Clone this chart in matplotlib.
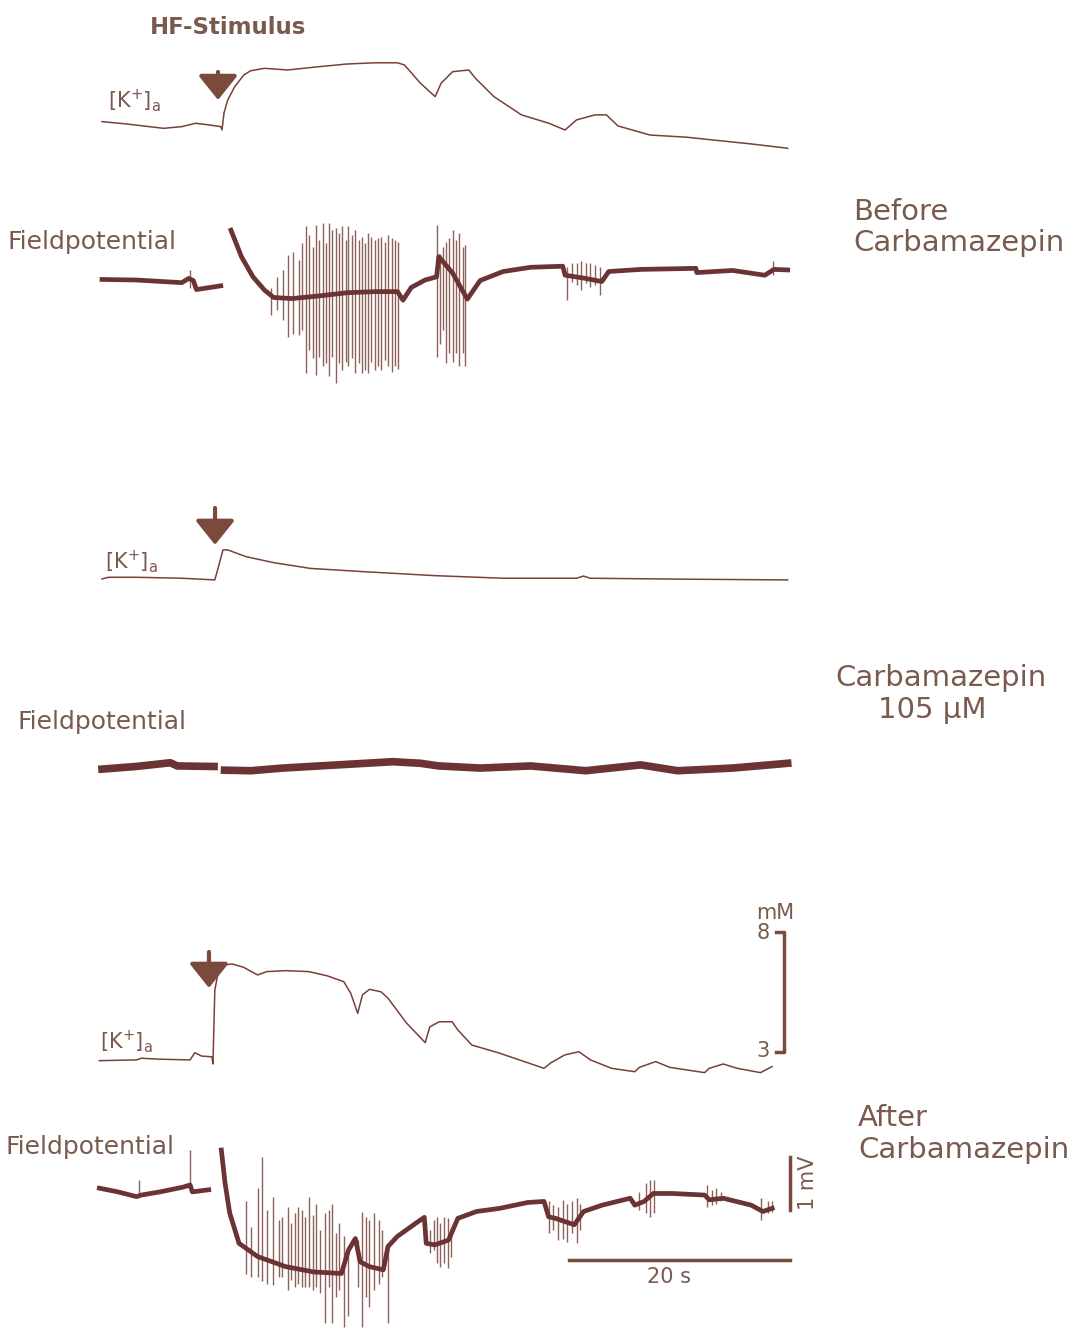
import matplotlib.pyplot as plt

# ---- data (time in s, [K+] in mM, field potential in mV) ----
k1_t = [0.0, 2.24, 5.56, 7.22, 8.47, 9.71, 10.75, 10.86, 11.04, 11.38, 12.00, 12.83, 13.46, 14.70,
        16.78, 19.68, 22.17, 24.67, 26.74, 27.37, 28.82, 30.15, 30.69, 31.73, 33.19, 33.81, 35.47,
        37.96, 40.45, 41.90, 42.94, 44.62, 45.65, 46.69, 49.59, 52.91, 55.38, 58.73, 62.05]
k1_mm = [3.10, 3.00, 2.82, 2.89, 3.03, 2.96, 2.89, 2.75, 3.46, 4.00, 4.55, 5.04, 5.22, 5.32,
         5.25, 5.39, 5.50, 5.55, 5.55, 5.46, 4.70, 4.14, 4.70, 5.18, 5.25, 4.90, 4.14,
         3.38, 3.03, 2.75, 3.17, 3.38, 3.38, 2.92, 2.54, 2.45, 2.33, 2.17, 1.99]

k2_t = [0.0, 0.58, 3.08, 7.22, 10.21, 10.54, 10.95, 11.38, 13.03, 15.54, 18.85, 23.82, 30.06,
        36.29, 42.94, 43.57, 44.19, 52.91, 62.05]
k2_mm = [2.96, 3.03, 3.03, 2.99, 2.92, 3.47, 4.17, 4.17, 3.89, 3.64, 3.40, 3.26, 3.10,
         2.99, 2.99, 3.08, 2.99, 2.95, 2.92]

k3_t = [-0.24, 3.13, 3.55, 5.23, 7.97, 8.40, 9.02, 9.95, 10.04, 10.21, 10.50, 11.13, 11.76, 12.81,
        14.08, 14.92, 16.62, 18.71, 20.41, 21.88, 22.51, 23.14, 23.57, 24.20, 25.25, 25.88, 27.57,
        29.25, 29.67, 30.52, 31.69, 32.20, 33.47, 35.99, 40.00, 40.62, 41.89, 43.16, 44.21, 46.11,
        48.22, 48.63, 50.11, 51.38, 54.53, 54.95, 56.22, 57.48, 59.59, 60.64]
k3_mm = [2.64, 2.67, 2.74, 2.70, 2.67, 2.97, 2.83, 2.80, 2.50, 5.58, 6.28, 6.63, 6.67, 6.53,
         6.21, 6.35, 6.39, 6.35, 6.17, 5.93, 5.45, 4.61, 5.38, 5.61, 5.51, 5.24, 4.20,
         3.39, 4.05, 4.26, 4.26, 3.92, 3.29, 2.95, 2.32, 2.55, 2.88, 3.01, 2.67, 2.32,
         2.18, 2.36, 2.60, 2.36, 2.14, 2.32, 2.50, 2.32, 2.14, 2.39]

# field potential before carbamazepin: pre-stimulus part and post-stimulus part
fp1a_t = [0.0, 3.07, 7.22, 7.85, 8.26, 8.55, 10.75]
fp1a_mv = [0.01, 0.00, -0.05, 0.03, -0.01, -0.18, -0.11]
fp1b_t = [11.67, 12.62, 13.66, 14.70, 15.53, 17.19, 19.68, 22.18, 24.67, 26.75, 27.24, 27.99,
          29.24, 30.28, 30.48, 31.73, 33.06, 34.22, 36.30, 38.79, 41.70, 41.91, 43.78, 45.23,
          45.86, 48.76, 53.75, 53.83, 57.07, 59.98, 60.81, 62.06]
fp1b_mv = [0.94, 0.44, 0.06, -0.19, -0.33, -0.35, -0.30, -0.24, -0.22, -0.22, -0.38, -0.14,
           0.00, 0.06, 0.44, 0.13, -0.36, -0.01, 0.16, 0.24, 0.26, 0.09, 0.03, -0.03,
           0.16, 0.20, 0.22, 0.14, 0.18, 0.09, 0.20, 0.19]
sp1_t = [7.97, 15.32, 15.86, 16.36, 16.86, 17.27, 17.81, 18.10, 18.44, 18.77, 19.10, 19.39, 19.68,
         19.97, 20.26, 20.56, 20.85, 21.18, 21.47, 21.76, 22.05, 22.30, 22.59, 22.88, 23.22,
         23.51, 23.80, 24.09, 24.38, 24.67, 24.96, 25.29, 25.58, 25.92, 26.21, 26.54, 26.83,
         30.28, 30.57, 30.82, 31.11, 31.40, 31.73, 32.02, 32.35, 32.64, 32.89,
         42.12, 42.53, 42.95, 43.36, 43.78, 44.19, 44.61, 45.11, 60.72]
sp1_top = [0.19, -0.16, 0.06, 0.19, 0.47, 0.53, 0.38, 0.69, 1.01, 0.85, 0.63, 1.04, 0.75,
           1.07, 0.69, 1.07, 0.94, 0.98, 0.88, 1.01, 0.75, 1.01, 0.85, 0.94, 0.75,
           0.82, 0.69, 0.88, 0.82, 0.75, 0.79, 0.82, 0.72, 0.85, 0.79, 0.75, 0.72,
           1.04, 0.50, 0.63, 0.72, 0.79, 0.94, 0.75, 0.88, 0.63, 0.66,
           0.25, 0.32, 0.32, 0.35, 0.32, 0.32, 0.28, 0.25, 0.35]
sp1_bot = [-0.16, -0.66, -0.57, -0.75, -1.07, -1.01, -1.04, -0.94, -1.76, -1.32, -1.48, -1.79, -1.45,
           -1.63, -1.57, -1.82, -1.45, -1.95, -1.57, -1.70, -1.54, -1.63, -1.48, -1.76, -1.57,
           -1.76, -1.70, -1.76, -1.54, -1.70, -1.63, -1.70, -1.51, -1.63, -1.73, -1.63, -1.67,
           -1.45, -1.20, -0.94, -1.57, -1.38, -1.54, -1.38, -1.63, -1.38, -1.63,
           -0.38, -0.03, -0.09, -0.19, -0.06, -0.13, -0.09, -0.28, 0.10]

# field potential with carbamazepin 105 uM
fp2a_t = [0.0, 3.08, 6.18, 6.81, 10.14]
fp2a_mv = [-0.04, 0.01, 0.08, 0.02, 0.01]
fp2b_t = [11.09, 13.46, 16.36, 19.68, 23.84, 26.33, 28.82, 30.48, 34.23, 38.79, 43.77, 48.76,
          52.08, 57.07, 62.05]
fp2b_mv = [-0.06, -0.07, -0.02, 0.02, 0.07, 0.10, 0.07, 0.02, -0.02, 0.02, -0.07, 0.04,
           -0.07, -0.02, 0.07]

# field potential after carbamazepin
fp3a_t = [-0.24, 1.44, 3.13, 3.55, 5.24, 7.34, 7.97, 8.18, 9.66]
fp3a_mv = [-0.06, -0.13, -0.22, -0.19, -0.13, -0.04, 0.00, -0.13, -0.09]
fp3b_t = [10.80, 11.14, 11.56, 12.40, 14.08, 16.61, 19.14, 21.67, 22.30, 22.93, 23.36, 24.20,
          25.46, 25.88, 26.73, 28.41, 29.17, 29.34, 30.10, 31.36, 32.20, 33.89, 36.00, 38.53,
          40.00, 40.42, 41.05, 42.74, 43.58, 45.27, 47.80, 48.22, 49.06, 49.90, 51.59, 54.54,
          54.96, 56.22, 58.75, 59.81, 60.65]
fp3b_mv = [0.66, 0.03, -0.53, -1.10, -1.35, -1.54, -1.64, -1.67, -1.23, -1.01, -1.45, -1.54,
           -1.60, -1.16, -0.97, -0.72, -0.61, -1.10, -1.13, -1.04, -0.63, -0.50, -0.44, -0.33,
           -0.31, -0.60, -0.63, -0.75, -0.50, -0.38, -0.25, -0.38, -0.31, -0.16, -0.16, -0.19,
           -0.28, -0.25, -0.38, -0.50, -0.44]
sp3_t = [3.34, 7.97,
         13.03, 13.45, 14.08, 14.51, 14.93, 15.48, 15.98, 16.32, 16.82, 17.12, 17.46, 17.75,
         18.09, 18.38, 18.72, 19.06, 19.39, 19.77, 20.19, 20.53, 20.83, 21.16, 21.46, 21.88,
         22.22, 23.14, 23.57, 23.90, 24.20, 24.62, 25.04, 25.38, 25.88,
         29.68, 30.01, 30.31, 30.60, 30.94, 31.28, 31.61,
         40.42, 40.84, 41.26, 41.69, 42.11, 42.53, 42.95, 43.24,
         48.64, 49.27, 49.61, 49.99, 54.75, 55.17, 55.59, 56.01, 59.60, 60.23, 60.65]
sp3_top = [0.09, 0.66,
           -0.31, -0.79, -0.06, 0.53, -0.47, -0.22, -0.66, -0.60, -0.41, -0.72, -0.53, -0.41,
           -0.47, -0.60, -0.22, -0.57, -0.35, -0.85, -0.53, -0.47, -0.35, -0.91, -0.72, -0.97,
           -1.23, -1.04, -0.50, -0.60, -0.66, -0.53, -0.66, -0.85, -1.10,
           -0.85, -0.66, -0.60, -0.72, -0.60, -0.63, -0.79,
           -0.31, -0.38, -0.41, -0.28, -0.35, -0.31, -0.25, -0.35,
           -0.13, 0.03, 0.09, 0.09, 0.00, -0.09, -0.06, -0.13, -0.25, -0.31, -0.31]
sp3_bot = [-0.22, 0.00,
           -1.67, -1.73, -1.73, -1.82, -1.86, -1.89, -1.73, -1.73, -1.98, -1.79, -1.92, -1.86,
           -1.92, -1.92, -1.92, -1.98, -1.92, -2.04, -2.61, -1.92, -2.61, -2.11, -1.98, -2.67,
           -2.48, -1.92, -2.67, -2.11, -2.30, -1.98, -1.86, -1.73, -2.61,
           -1.29, -1.23, -1.48, -1.54, -1.48, -1.57, -1.35,
           -0.91, -0.85, -1.04, -1.01, -1.07, -0.91, -1.10, -0.85,
           -0.47, -0.53, -0.60, -0.53, -0.41, -0.38, -0.35, -0.31, -0.66, -0.53, -0.50]

# stimulus arrows: (time, arrow top, arrow tip) in mM of each K+ trace
arrow_t = [10.5, 10.23, 9.68]
arrow_top = [5.17, 5.92, 7.17]
arrow_tip = [4.0, 4.38, 5.67]

# ---- layout ----
W, H = 1077, 1328
PX_PER_S = 11.05
T0_PX = 102
TXT = '#7b5a4e'
TRC = '#6b3333'
SPK = '#8e625a'
BAR = '#7b4a3c'

fig = plt.figure(figsize=(W / 100, H / 100), dpi=100)
fig.patch.set_facecolor('white')


def trace_axes(zero_px, px_per_unit, ref):
    ax = fig.add_axes([0, 0, 1, 1])
    ax.set_xlim(-T0_PX / PX_PER_S, (W - T0_PX) / PX_PER_S)
    ax.set_ylim(ref - (H - zero_px) / px_per_unit, ref + zero_px / px_per_unit)
    ax.axis('off')
    ax.patch.set_alpha(0)
    return ax


def label(x, y, s, size, **kw):
    fig.text(x / W, 1 - y / H, s, fontsize=size, color=TXT, va='center', **kw)


ax_k1 = trace_axes(124, 24, 3.0)
ax_f1 = trace_axes(280, 53, 0.0)
ax_k2 = trace_axes(578, 24, 3.0)
ax_f2 = trace_axes(767, 53, 0.0)
ax_k3 = trace_axes(1052, 24, 3.0)
ax_f3 = trace_axes(1185, 53, 0.0)

for ax, t, v in [(ax_k1, k1_t, k1_mm), (ax_k2, k2_t, k2_mm), (ax_k3, k3_t, k3_mm)]:
    ax.plot(t, v, color='#7a4038', lw=1.1)

ax_f1.vlines(sp1_t, sp1_bot, sp1_top, color=SPK, lw=1.0)
ax_f3.vlines(sp3_t, sp3_bot, sp3_top, color=SPK, lw=1.0)
ax_f1.plot(fp1a_t, fp1a_mv, color=TRC, lw=3.4)
ax_f1.plot(fp1b_t, fp1b_mv, color=TRC, lw=3.4)
ax_f2.plot(fp2a_t, fp2a_mv, color=TRC, lw=5.5)
ax_f2.plot(fp2b_t, fp2b_mv, color=TRC, lw=5.5)
ax_f3.plot(fp3a_t, fp3a_mv, color=TRC, lw=3.4)
ax_f3.plot(fp3b_t, fp3b_mv, color=TRC, lw=3.4)

for ax, t, top, tip in zip([ax_k1, ax_k2, ax_k3], arrow_t, arrow_top, arrow_tip):
    ax.annotate('', xy=(t, tip), xytext=(t, top),
                arrowprops=dict(arrowstyle='-|>,head_length=0.75,head_width=0.6',
                                mutation_scale=20, lw=3, color=BAR,
                                shrinkA=0, shrinkB=0))

# scale bars
ax_k3.plot([61.0, 61.7, 61.7, 61.0], [8, 8, 3, 3], color=BAR, lw=2.5)
ax_f3.plot([62.3, 62.3], [0.53, -0.47], color=BAR, lw=2.5)
ax_f3.plot([42.26, 62.26], [-1.415, -1.415], color=BAR, lw=2.5)

# texts
label(150, 27, 'HF-Stimulus', 16.5, fontweight='bold')
kplus = r'[K$^{+}$]$_{\mathregular{a}}$'
label(108, 101, kplus, 15)
label(105, 562, kplus, 15)
label(100, 1042, kplus, 15)
label(8, 242, 'Fieldpotential', 18)
label(18, 722, 'Fieldpotential', 18)
label(6, 1147, 'Fieldpotential', 18)
label(853, 212, 'Before', 21)
label(853, 243, 'Carbamazepin', 21)
label(835, 678, 'Carbamazepin', 21)
label(878, 710, '105 µM', 21)
label(858, 1118, 'After', 21)
label(858, 1150, 'Carbamazepin', 21)
label(756, 913, 'mM', 15)
label(757, 933, '8', 15)
label(756, 1051, '3', 15)
label(798, 1183, '1 mV', 15, rotation=90, ha='left')
label(647, 1277, '20 s', 15)

fig.savefig('out.png', dpi=100)
